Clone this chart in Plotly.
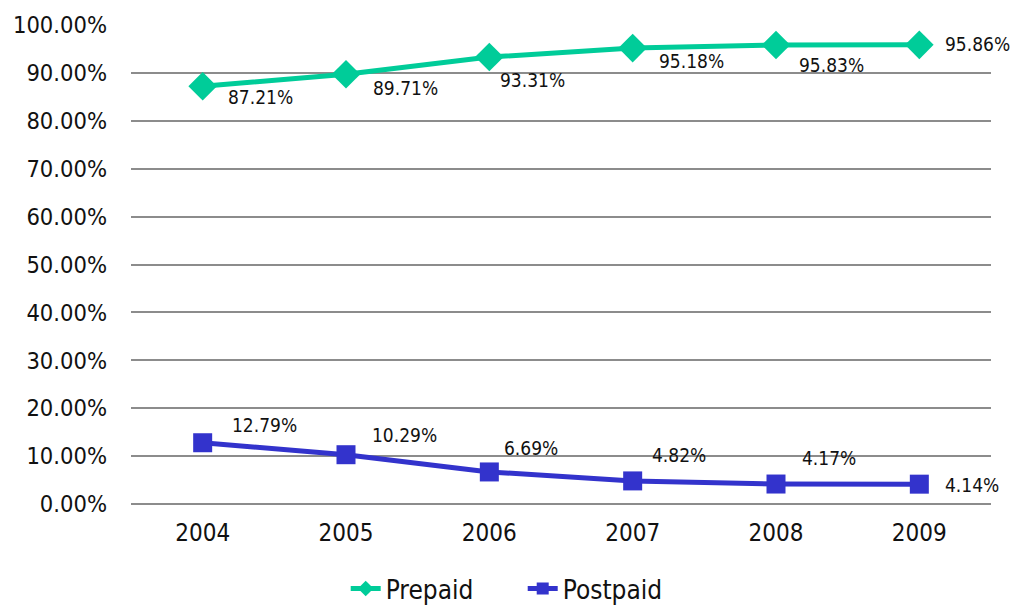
import plotly.graph_objects as go

years = ["2004", "2005", "2006", "2007", "2008", "2009"]
prepaid = [87.21, 89.71, 93.31, 95.18, 95.83, 95.86]
postpaid = [12.79, 10.29, 6.69, 4.82, 4.17, 4.14]

# label offsets (px) from each marker: (dx, dy)
prepaid_offsets = [(25, -11), (27, -14), (11, -23), (26, -13), (23, -20), (26, 1)]
postpaid_offsets = [(29, 18), (26, 20), (15, 24), (19, 26), (26, 26), (26, -1)]

GREEN = "#00CC99"
BLUE = "#3333CC"
FONT = "DejaVu Sans Condensed, DejaVu Sans"

fig = go.Figure()
fig.add_trace(go.Scatter(
    x=years, y=[v / 100 for v in prepaid], name="Prepaid", mode="lines+markers",
    line=dict(color=GREEN, width=5),
    marker=dict(symbol="diamond", size=22, color=GREEN),
))
fig.add_trace(go.Scatter(
    x=years, y=[v / 100 for v in postpaid], name="Postpaid", mode="lines+markers",
    line=dict(color=BLUE, width=5),
    marker=dict(symbol="square", size=19, color=BLUE),
))

for series, offs in ((prepaid, prepaid_offsets), (postpaid, postpaid_offsets)):
    for i, (v, (dx, dy)) in enumerate(zip(series, offs)):
        fig.add_annotation(
            x=i, y=v / 100, xref="x", yref="y", text=f"{v:.2f}%", showarrow=False,
            xanchor="left", yanchor="middle", xshift=dx - 2, yshift=dy,
            font=dict(family=FONT, size=19, color="#111111"),
        )

fig.update_layout(
    width=1013, height=605,
    margin=dict(l=131, r=22, t=25, b=101, autoexpand=False),
    paper_bgcolor="white", plot_bgcolor="white",
    font=dict(family=FONT, color="#111111"),
    showlegend=True,
    legend=dict(
        orientation="h", x=0.516, xanchor="center", xref="container",
        y=0.066, yanchor="top", yref="container",
        font=dict(family=FONT, size=26, color="#111111"),
        traceorder="normal", itemsizing="constant", entrywidth=132,
    ),
)
fig.update_xaxes(
    type="category", range=[-0.5, 5.5], showgrid=False, zeroline=False,
    showline=False, tickfont=dict(size=24), ticks="", ticklabelstandoff=12,
)
fig.update_yaxes(
    range=[0, 1], dtick=0.1, tickformat=".2%", showgrid=True,
    gridcolor="#8c8c8c", gridwidth=1.5, zeroline=True, zerolinecolor="#8c8c8c",
    zerolinewidth=1.5, tickfont=dict(size=23.5), ticklabelstandoff=23,
)

fig.write_html("out.html")
